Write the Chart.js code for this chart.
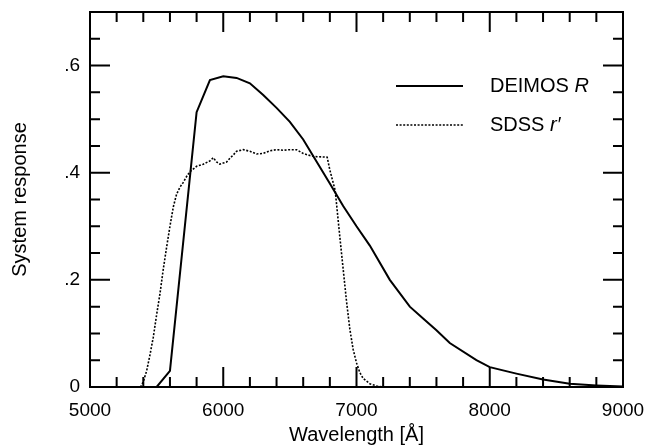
<!DOCTYPE html>
<html>
<head>
<meta charset="utf-8">
<script src="https://cdn.jsdelivr.net/npm/chart.js@4.4.1/dist/chart.umd.min.js"></script>
<style>
  html, body { margin: 0; padding: 0; background: #fff; }
  #wrap { width: 659px; height: 445px; }
</style>
</head>
<body>
<div id="wrap"><canvas id="Grafico"></canvas></div>
<script>
// Curvas (comprimento de onda em Å, resposta do sistema)
const deimosWave = [5000, 5500, 5600, 5800, 5900, 6000, 6100, 6200, 6300, 6400, 6500, 6600, 6700, 6800, 6900, 7000, 7100, 7250, 7400, 7500, 7600, 7700, 7900, 8000, 8200, 8400, 8600, 8800, 9000];
const deimosResp = [0, 0, 0.03, 0.513, 0.573, 0.580, 0.577, 0.567, 0.545, 0.521, 0.495, 0.462, 0.421, 0.380, 0.338, 0.300, 0.264, 0.200, 0.150, 0.128, 0.106, 0.082, 0.050, 0.037, 0.025, 0.014, 0.006, 0.003, 0.001];

const sdssWave = [5000, 5380, 5400, 5425, 5450, 5475, 5500, 5525, 5550, 5575, 5600, 5625, 5650, 5675, 5700, 5725, 5750, 5800, 5850, 5900, 5925, 5950, 5975, 6000, 6025, 6050, 6075, 6100, 6150, 6200, 6250, 6300, 6350, 6400, 6450, 6500, 6550, 6600, 6650, 6700, 6780, 6800, 6840, 6875, 6900, 6925, 6950, 6975, 7000, 7025, 7050, 7100, 7150, 7200, 9000];
const sdssResp = [0, 0, 0.01, 0.03, 0.06, 0.093, 0.135, 0.174, 0.22, 0.261, 0.30, 0.336, 0.36, 0.373, 0.382, 0.393, 0.402, 0.412, 0.416, 0.422, 0.428, 0.420, 0.416, 0.418, 0.420, 0.427, 0.433, 0.440, 0.443, 0.440, 0.435, 0.436, 0.441, 0.443, 0.442, 0.443, 0.443, 0.436, 0.432, 0.430, 0.429, 0.405, 0.367, 0.28, 0.22, 0.16, 0.108, 0.07, 0.045, 0.027, 0.016, 0.006, 0.002, 0, 0];

const legendLabels = [['DEIMOS ', 'R'], ['SDSS ', 'r\u2032']];

const FONT = '"Liberation Sans", Arial, Helvetica, sans-serif';

function toPoints(xs, ys) {
    return xs.map((x, i) => ({ x: x, y: ys[i] }));
}

// Moldura, marcas internas e legenda desenhadas à mão
const framePlugin = {
    id: 'framePlugin',
    afterDraw(chart) {
        const ctx = chart.ctx;
        const a = chart.chartArea;
        const xs = chart.scales.x;
        const ys = chart.scales.y;
        ctx.save();
        ctx.strokeStyle = '#000';
        ctx.lineWidth = 2;
        ctx.strokeRect(a.left, a.top, a.right - a.left, a.bottom - a.top);

        ctx.beginPath();
        xs.ticks.forEach(t => {
            const p = xs.getPixelForValue(t.value);
            const len = t.value % 1000 === 0 ? 20 : 10;
            ctx.moveTo(p, a.bottom); ctx.lineTo(p, a.bottom - len);
            ctx.moveTo(p, a.top); ctx.lineTo(p, a.top + len);
        });
        ys.ticks.forEach(t => {
            const p = ys.getPixelForValue(t.value);
            const len = Math.round(t.value * 100) % 20 === 0 ? 20 : 10;
            ctx.moveTo(a.left, p); ctx.lineTo(a.left + len, p);
            ctx.moveTo(a.right, p); ctx.lineTo(a.right - len, p);
        });
        ctx.stroke();

        // Legenda
        const lx0 = a.left + 306, lx1 = a.left + 373, tx = a.left + 400;
        const rows = [a.top + 74, a.top + 113];
        chart.data.datasets.forEach((ds, i) => {
            const y = rows[i];
            ctx.beginPath();
            ctx.lineWidth = ds.borderWidth;
            ctx.setLineDash(ds.borderDash || []);
            ctx.moveTo(lx0, y); ctx.lineTo(lx1, y);
            ctx.stroke();
            ctx.setLineDash([]);
            ctx.fillStyle = '#000';
            ctx.textBaseline = 'middle';
            ctx.textAlign = 'left';
            ctx.font = '20px ' + FONT;
            ctx.fillText(legendLabels[i][0], tx, y);
            const w = ctx.measureText(legendLabels[i][0]).width;
            ctx.font = 'italic 20px ' + FONT;
            ctx.fillText(legendLabels[i][1], tx + w, y);
        });
        ctx.restore();
    }
};

document.addEventListener('DOMContentLoaded', function() {
    const ctx = document.getElementById('Grafico').getContext('2d');

    const data = {
        datasets: [{
            label: 'DEIMOS R',
            data: toPoints(deimosWave, deimosResp),
            borderColor: '#000',
            borderWidth: 2,
            pointRadius: 0,
            tension: 0,
            fill: false
        }, {
            label: 'SDSS r\u2032',
            data: toPoints(sdssWave, sdssResp),
            borderColor: '#000',
            borderWidth: 1.6,
            borderDash: [2, 1.6],
            pointRadius: 0,
            tension: 0,
            fill: false
        }]
    };

    const options = {
        responsive: true,
        maintainAspectRatio: false,
        animation: false,
        layout: { padding: { top: 12, right: 36, left: 0, bottom: 0 } },
        plugins: {
            legend: { display: false },
            tooltip: { enabled: false }
        },
        scales: {
            x: {
                type: 'linear',
                min: 5000,
                max: 9000,
                grid: { display: false, drawTicks: false },
                border: { display: false },
                afterFit: s => { s.height = 58; s.paddingLeft = 0; s.paddingRight = 0; },
                ticks: {
                    stepSize: 200,
                    autoSkip: false,
                    maxRotation: 0,
                    padding: 12,
                    color: '#000',
                    font: { family: FONT, size: 19 },
                    callback: v => (v % 1000 === 0 ? String(v) : '')
                },
                title: {
                    display: true,
                    text: 'Wavelength [\u00c5]',
                    color: '#000',
                    font: { family: FONT, size: 20, lineHeight: 1 },
                    padding: { top: 0, bottom: 0 }
                }
            },
            y: {
                min: 0,
                max: 0.7,
                grid: { display: false, drawTicks: false },
                border: { display: false },
                afterFit: s => { s.width = 90; s.paddingTop = 0; s.paddingBottom = 0; },
                ticks: {
                    stepSize: 0.05,
                    autoSkip: false,
                    padding: 10,
                    color: '#000',
                    font: { family: FONT, size: 19 },
                    callback: v => {
                        const k = Math.round(v * 100);
                        if (k % 20 !== 0) return '';
                        return k === 0 ? '0' : '.' + (k / 10);
                    }
                },
                title: {
                    display: true,
                    text: 'System response',
                    color: '#000',
                    font: { family: FONT, size: 20, lineHeight: 1 },
                    padding: { top: 10, bottom: 0 }
                }
            }
        }
    };

    new Chart(ctx, {
        type: 'line',
        data: data,
        options: options,
        plugins: [framePlugin]
    });
});
</script>
</body>
</html>
